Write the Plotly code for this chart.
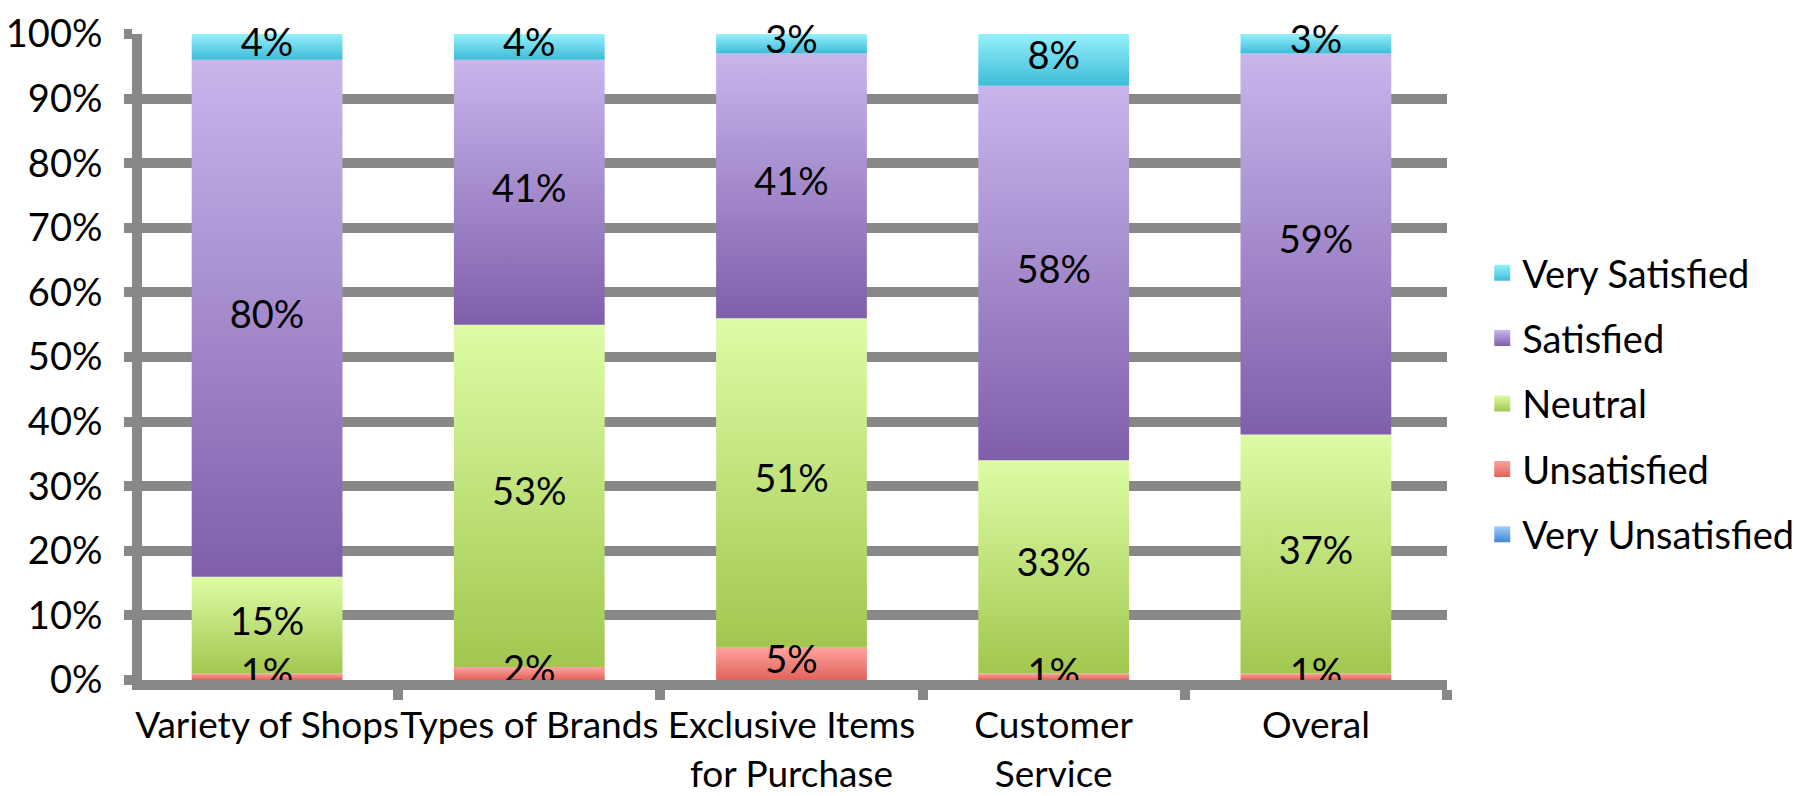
import plotly.graph_objects as go

# Survey results (percent of respondents) per aspect
categories = ["Variety of Shops", "Types of Brands", "Exclusive Items<br>for Purchase",
              "Customer<br>Service", "Overal"]
very_unsatisfied = [0, 0, 0, 0, 0]
unsatisfied = [1, 2, 5, 1, 1]
neutral = [15, 53, 51, 33, 37]
satisfied = [80, 41, 41, 58, 59]
very_satisfied = [4, 4, 3, 8, 3]
y_tick_values = list(range(0, 101, 10))

# (name, values, top colour, bottom colour, show labels) from bottom of stack to top
series = [
    ("Very Unsatisfied", very_unsatisfied, "#a3cdfd", "#3f86d4", False),
    ("Unsatisfied", unsatisfied, "#ffa29e", "#e2625a", True),
    ("Neutral", neutral, "#ddfca5", "#a2c74f", True),
    ("Satisfied", satisfied, "#c9b5ec", "#7f5fab", True),
    ("Very Satisfied", very_satisfied, "#95f0fc", "#3dbcd8", True),
]

FONT = "Lato"
GRID = "#888888"
BAR_WIDTH = 0.575

fig = go.Figure()

# Legend entries (top series first)
for name, vals, top, bottom, _ in reversed(series):
    fig.add_trace(go.Scatter(
        x=[None], y=[None], mode="markers", name=name, legendgroup=name,
        marker=dict(symbol="square", size=16, color=top,
                    gradient=dict(type="vertical", color=bottom)),
        hoverinfo="skip",
    ))

# Stacked segments drawn as filled rectangles with a vertical gradient
base = [0.0] * len(categories)
label_x, label_y, label_txt = [], [], []
for name, vals, top, bottom, show_label in series:
    for i, v in enumerate(vals):
        if v <= 0:
            continue
        y0, y1 = base[i], base[i] + v
        x0, x1 = i - BAR_WIDTH / 2, i + BAR_WIDTH / 2
        fig.add_trace(go.Scatter(
            x=[x0, x1, x1, x0, x0], y=[y0, y0, y1, y1, y0],
            mode="lines", fill="toself", line=dict(width=0),
            fillgradient=dict(type="vertical", colorscale=[[0, bottom], [1, top]]),
            name=name, legendgroup=name, showlegend=False,
            hovertemplate=f"{name}: {v}%<extra></extra>",
        ))
        if show_label:
            label_x.append(i)
            label_y.append((y0 + y1) / 2)
            label_txt.append(f"{v}%")
        base[i] = y1

fig.add_trace(go.Scatter(
    x=label_x, y=label_y, text=label_txt, mode="text",
    textfont=dict(family=FONT, size=38, color="black"),
    showlegend=False, hoverinfo="skip", cliponaxis=False,
))

fig.update_layout(
    width=1811, height=796,
    margin=dict(l=142, r=358, t=34, b=116),
    paper_bgcolor="white", plot_bgcolor="white",
    font=dict(family=FONT, size=38, color="black"),
    showlegend=True,
    legend=dict(
        x=1.027, xanchor="left", y=0.428, yanchor="middle",
        traceorder="grouped", tracegroupgap=13,
        font=dict(family=FONT, size=38, color="black"),
        itemsizing="trace", bgcolor="rgba(0,0,0,0)",
    ),
    xaxis=dict(
        range=[-0.477, 4.5], tickmode="array",
        tickvals=list(range(len(categories))), ticktext=categories,
        tickangle=0, ticks="", showgrid=False, zeroline=False,
        showline=True, linecolor=GRID, linewidth=10,
        minor=dict(tickmode="array", tickvals=[i + 0.5 for i in range(len(categories))],
                   ticks="outside", ticklen=10, tickwidth=10, tickcolor=GRID,
                   showgrid=False),
        ticklabelstandoff=4,
        tickfont=dict(family=FONT, size=37, color="black"),
        automargin=False, fixedrange=True,
    ),
    yaxis=dict(
        range=[0, 100], tickmode="array", tickvals=y_tick_values,
        ticktext=[f"{v}%" for v in y_tick_values],
        showgrid=True, gridcolor=GRID, gridwidth=10, zeroline=False,
        showline=True, linecolor=GRID, linewidth=10,
        ticks="outside", ticklen=8, tickwidth=10, tickcolor=GRID,
        ticklabelstandoff=14,
        tickfont=dict(family=FONT, size=38, color="black"),
        automargin=False, fixedrange=True,
    ),
)

fig.write_html("out.html")
